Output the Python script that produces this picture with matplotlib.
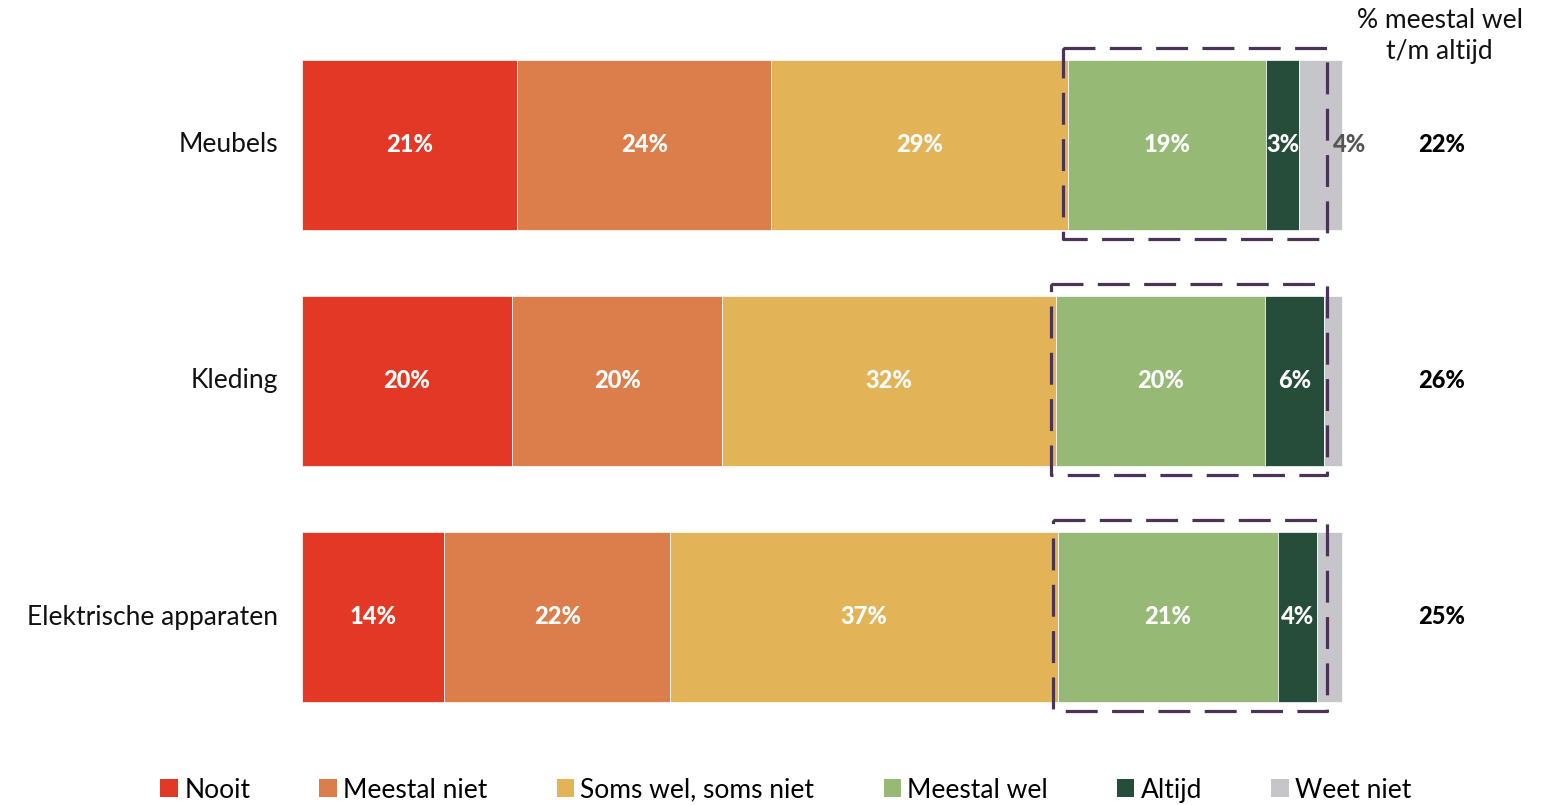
import matplotlib

matplotlib.use("Agg")
import matplotlib.pyplot as plt
import numpy as np
from matplotlib.patches import Patch, Rectangle

plt.rcParams["font.family"] = ["Lato", "DejaVu Sans"]

categories = ["Meubels", "Kleding", "Elektrische apparaten"]
answers = ["Nooit", "Meestal niet", "Soms wel, soms niet", "Meestal wel", "Altijd", "Weet niet"]
nooit = [20.7, 20.2, 13.7]
meestal_niet = [24.4, 20.2, 21.7]
soms = [28.6, 32.1, 37.3]
meestal_wel = [19.0, 20.1, 21.1]
altijd = [3.2, 5.7, 3.8]
weet_niet = [4.1, 1.7, 2.4]
totals_wel = [22, 26, 25]

colors = ["#E33826", "#DB7E4B", "#E3B358", "#96BA76", "#264C3A", "#C6C5CA"]
label_colors = ["white", "white", "white", "white", "white", "#555555"]
box_color = "#4B3358"

W, H = 1547, 805
fig = plt.figure(figsize=(W / 100, H / 100), dpi=100)
ax = fig.add_axes([0, 0, 1, 1])
px = 10.4  # pixels per percent
x0 = 302
ax.set_xlim(-x0 / px, (W - x0) / px)
row_px = 236
ax.set_ylim((H - 145) / row_px, -145 / row_px)
ax.axis("off")

series = [nooit, meestal_niet, soms, meestal_wel, altijd, weet_niet]
ypos = np.arange(len(categories))
bar_h = 170 / row_px
left = np.zeros(len(categories))
starts = []
for vals, col, lcol in zip(series, colors, label_colors):
    vals = np.array(vals)
    ax.barh(ypos, vals, left=left, height=bar_h, color=col, edgecolor="white", linewidth=0.5)
    starts.append(left.copy())
    for y, l, v in zip(ypos, left, vals):
        if round(v) >= 3:
            xt = l + v / 2
            ha = "center"
            if col == colors[-1]:
                xt, ha = l + v - 0.9, "left"
            ax.text(xt, y, f"{round(v)}%", ha=ha, va="center", color=lcol,
                    fontsize=17, fontweight="black")
    left = left + vals

# dashed boxes around "Meestal wel" + "Altijd"
for y, s in zip(ypos, starts[3]):
    r = Rectangle((s - 0.5, y - bar_h / 2 - 0.052), 98.6 - (s - 0.5), bar_h + 0.09,
                  fill=False, edgecolor=box_color, linewidth=2.3, linestyle=(0, (10, 4.5)),
                  joinstyle="round", capstyle="butt", clip_on=False, zorder=5)
    ax.add_patch(r)

for y, c in zip(ypos, categories):
    ax.text(-2.3, y, c, ha="right", va="center", fontsize=19, color="#111111")

for y, t in zip(ypos, totals_wel):
    ax.text(109.6, y, f"{t}%", ha="center", va="center", fontsize=17, fontweight="black",
            color="black")
ax.text(109.4, -145 / row_px + 36 / row_px, "% meestal wel\nt/m altijd", ha="center",
        va="center", fontsize=19, color="#111111", linespacing=1.3)

handles = [Patch(facecolor=c, edgecolor="none") for c in colors]
fig.legend(handles, answers, loc="center", bbox_to_anchor=(786 / W, 1 - 790 / H), ncol=6,
           frameon=False, fontsize=19, handlelength=0.65, handleheight=0.65,
           handletextpad=0.25, columnspacing=2.62)

fig.savefig("out.png", dpi=100)
